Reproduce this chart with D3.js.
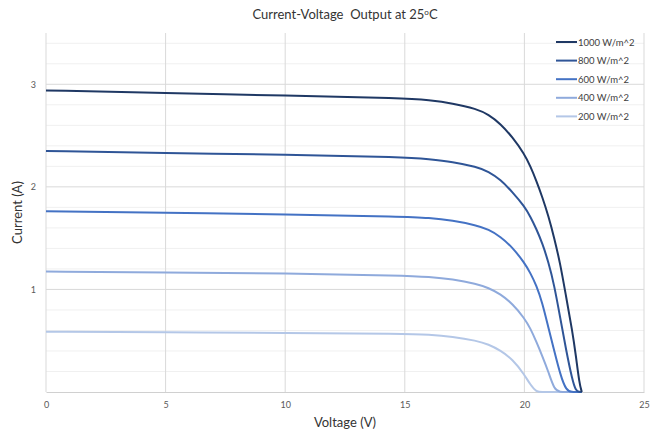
<!DOCTYPE html>
<html>
<head>
<meta charset="utf-8">
<script src="https://cdn.jsdelivr.net/npm/d3@7"></script>
<style>
  body { margin: 0; background: #fff; }
  text { font-family: Lato, "Liberation Sans", sans-serif; }
</style>
</head>
<body>
<div id="chart"></div>
<script>
// I-V curves
const voltage = [0, 5, 10, 15, 16, 17, 18, 18.5, 19, 19.5, 20, 20.25, 20.5, 20.75, 21, 21.25, 21.5, 21.75, 22, 22.15, 22.3, 22.4];
const seriesNames = ['1000 W/m^2', '800 W/m^2', '600 W/m^2', '400 W/m^2', '200 W/m^2'];
const i1000 = [2.94, 2.915, 2.89, 2.865, 2.845, 2.815, 2.76, 2.705, 2.615, 2.485, 2.32, 2.2, 2.06, 1.9, 1.72, 1.5, 1.25, 0.92, 0.6, 0.36, 0.08, 0];
const i800 = [2.35, 2.33, 2.314, 2.29, 2.27, 2.245, 2.195, 2.15, 2.07, 1.95, 1.81, 1.71, 1.59, 1.45, 1.27, 1.04, 0.72, 0.4, 0.12, 0.01, 0, 0];
const i600 = [1.762, 1.746, 1.733, 1.71, 1.698, 1.672, 1.625, 1.585, 1.515, 1.41, 1.26, 1.16, 1.04, 0.87, 0.63, 0.4, 0.17, 0.01, 0, 0, 0, 0];
const i400 = [1.175, 1.166, 1.156, 1.135, 1.122, 1.1, 1.055, 1.015, 0.955, 0.86, 0.72, 0.62, 0.49, 0.35, 0.2, 0.02, 0, 0, 0, 0, 0, 0];
const i200 = [0.587, 0.584, 0.575, 0.568, 0.56, 0.54, 0.5, 0.465, 0.405, 0.32, 0.17, 0.07, 0, 0, 0, 0, 0, 0, 0, 0, 0, 0];
const colors = ['#1f3864', '#2f5597', '#4472c4', '#8faadc', '#b4c7e7'];
const xTicks = [0, 5, 10, 15, 20, 25];
const yTicks = [1, 2, 3];

const currents = [i1000, i800, i600, i400, i200];
const width = 662, height = 431;
const margin = {top: 33, right: 18, bottom: 39, left: 46};

const svg = d3.select('#chart').append('svg')
  .attr('width', width)
  .attr('height', height);

const x = d3.scaleLinear().domain([0, 25]).range([margin.left, width - margin.right]);
const y = d3.scaleLinear().domain([0, 3.5]).range([height - margin.bottom, margin.top]);

// minor gridlines every 0.2
const grid = svg.append('g');
grid.selectAll('line.minor')
  .data(d3.range(0.2, 3.5, 0.2).filter(v => Math.abs(v - Math.round(v)) > 0.01))
  .enter().append('line')
  .attr('x1', x(0)).attr('x2', x(25))
  .attr('y1', d => y(d)).attr('y2', d => y(d))
  .attr('stroke', '#f0f0f0').attr('stroke-width', 1);

grid.selectAll('line.major')
  .data(yTicks)
  .enter().append('line')
  .attr('x1', x(0)).attr('x2', x(25))
  .attr('y1', d => y(d)).attr('y2', d => y(d))
  .attr('stroke', '#d9d9d9').attr('stroke-width', 1);

grid.selectAll('line.vert')
  .data(xTicks)
  .enter().append('line')
  .attr('x1', d => x(d)).attr('x2', d => x(d))
  .attr('y1', y(0)).attr('y2', y(3.5))
  .attr('stroke', '#d9d9d9').attr('stroke-width', 1);

// axes
const xAxis = svg.append('g')
  .attr('transform', `translate(0,${y(0)})`)
  .call(d3.axisBottom(x).tickValues(xTicks).tickSize(0).tickPadding(10));
xAxis.select('.domain').attr('stroke', '#d0d0d0');
xAxis.selectAll('text').attr('fill', '#595959').style('font-size', '9px');

const yAxis = svg.append('g')
  .attr('transform', `translate(${x(0)},0)`)
  .call(d3.axisLeft(y).tickValues(yTicks).tickFormat(d3.format('d')).tickSize(0).tickPadding(10));
yAxis.select('.domain').remove();
yAxis.selectAll('text').attr('fill', '#595959').style('font-size', '9px');

// curves
const line = d3.line()
  .x((d, i) => x(voltage[i]))
  .y(d => y(d))
  .curve(d3.curveBasis);

svg.append('g').selectAll('path')
  .data(currents.slice().reverse())
  .enter().append('path')
  .attr('d', line)
  .attr('fill', 'none')
  .attr('stroke', (d, i) => colors[colors.length - 1 - i])
  .attr('stroke-width', 2);

// titles
svg.append('text')
  .attr('x', 345).attr('y', 19)
  .attr('text-anchor', 'middle')
  .attr('fill', '#333')
  .style('font-size', '13px')
  .html('Current-Voltage&#160;&#160;Output at 25<tspan dy="-4" style="font-size:8px">o</tspan><tspan dy="4">C</tspan>');

svg.append('text')
  .attr('x', 345).attr('y', 427)
  .attr('text-anchor', 'middle')
  .attr('fill', '#333')
  .style('font-size', '13px')
  .text('Voltage (V)');

svg.append('text')
  .attr('transform', `translate(22,${(y(0) + y(3.5)) / 2}) rotate(-90)`)
  .attr('text-anchor', 'middle')
  .attr('fill', '#333')
  .style('font-size', '13px')
  .text('Current (A)');

// legend
const legend = svg.append('g').attr('transform', 'translate(556,42)');
seriesNames.forEach((name, i) => {
  const row = legend.append('g').attr('transform', `translate(0,${i * 18.6})`);
  row.append('line')
    .attr('x1', 0).attr('x2', 21)
    .attr('stroke', colors[i]).attr('stroke-width', 2);
  row.append('text')
    .attr('x', 22).attr('y', 3.5)
    .attr('fill', '#404040')
    .style('font-size', '9.5px')
    .text(name);
});
</script>
</body>
</html>
